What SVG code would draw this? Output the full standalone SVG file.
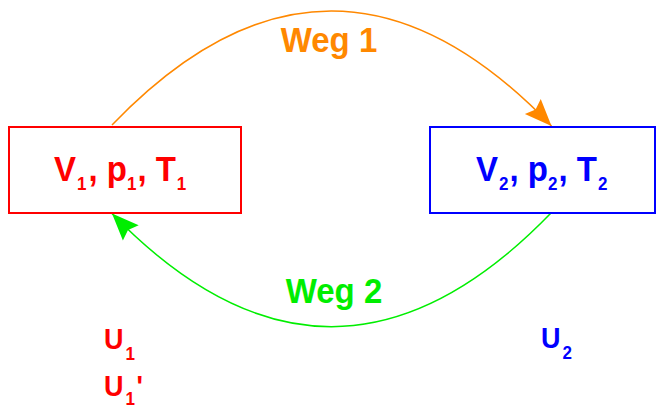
<svg xmlns="http://www.w3.org/2000/svg" width="656" height="407" viewBox="0 0 656 407">
  <style>
    text { font-family: "Liberation Sans", Arial, Helvetica, sans-serif; font-weight: bold; }
    .big { font-size: 33px; }
    .u { font-size: 27px; }
    .sub { font-size: 17px; }
    .red { fill: #ff0000; }
    .blue { fill: #0000ff; }
    .box { fill: #ffffff; stroke-width: 2; }
    .conn { fill: none; stroke-width: 1.5; }
  </style>
  <defs>
    <marker id="arrO" markerUnits="userSpaceOnUse" viewBox="-28 -12 30 24" refX="0" refY="0" markerWidth="30" markerHeight="24" orient="auto">
      <path d="M0,0 L-27,-11 L-23,0 L-27,11 Z" fill="#ff8800"/>
    </marker>
    <marker id="arrG" markerUnits="userSpaceOnUse" viewBox="-28 -12 30 24" refX="0" refY="0" markerWidth="30" markerHeight="24" orient="auto">
      <path d="M0,0 L-27,-11 L-23,0 L-27,11 Z" fill="#00ee00"/>
    </marker>
  </defs>

  <g id="connectors">
    <g id="weg1">
      <path class="conn" d="M112,125 Q331.5,-103.5 551.5,126" stroke="#ff8800" marker-end="url(#arrO)"/>
      <text class="big" fill="#ff8800" text-anchor="middle" x="329" y="52.3" transform="matrix(1 0 0 1.08 0 -4.18)">Weg 1</text>
    </g>
    <g id="weg2">
      <path class="conn" d="M551,213 Q331.5,440 112,213.5" stroke="#00ee00" marker-end="url(#arrG)"/>
      <text class="big" fill="#00ee00" text-anchor="middle" x="334" y="303" transform="matrix(1 0 0 1.08 0 -24.24)">Weg 2</text>
    </g>
  </g>

  <g id="state1">
    <rect class="box" x="9" y="127" width="232" height="86" stroke="#ff0000"/>
    <text class="big red" x="54" y="181" transform="matrix(1 0 0 1.08 0 -14.48)">V<tspan class="sub" dy="8" dx="1">1</tspan><tspan dy="-8" dx="2">, p</tspan><tspan class="sub" dy="8">1</tspan><tspan dy="-8" dx="1">, T</tspan><tspan class="sub" dy="8" dx="1">1</tspan></text>
  </g>

  <g id="state2">
    <rect class="box" x="430" y="127" width="225" height="86" stroke="#0000ff"/>
    <text class="big blue" x="476" y="181" transform="matrix(1 0 0 1.08 0 -14.48)">V<tspan class="sub" dy="8" dx="1">2</tspan><tspan dy="-8" dx="1">, p</tspan><tspan class="sub" dy="8">2</tspan><tspan dy="-8" dx="1">, T</tspan><tspan class="sub" dy="8" dx="1">2</tspan></text>
  </g>

  <g id="energies">
    <text class="u red" x="104" y="349.5" transform="matrix(1 0 0 1.08 0 -27.96)">U<tspan class="sub" dy="9.5" dx="2">1</tspan></text>
    <text class="u red" x="104" y="396.5" transform="matrix(1 0 0 1.08 0 -31.72)">U<tspan class="sub" dy="7.5" dx="2">1</tspan><tspan x="136.5" dy="-7.5">'</tspan></text>
    <text class="u blue" x="541" y="348.5" transform="matrix(1 0 0 1.08 0 -27.88)">U<tspan class="sub" dy="10" dx="2">2</tspan></text>
  </g>
</svg>
